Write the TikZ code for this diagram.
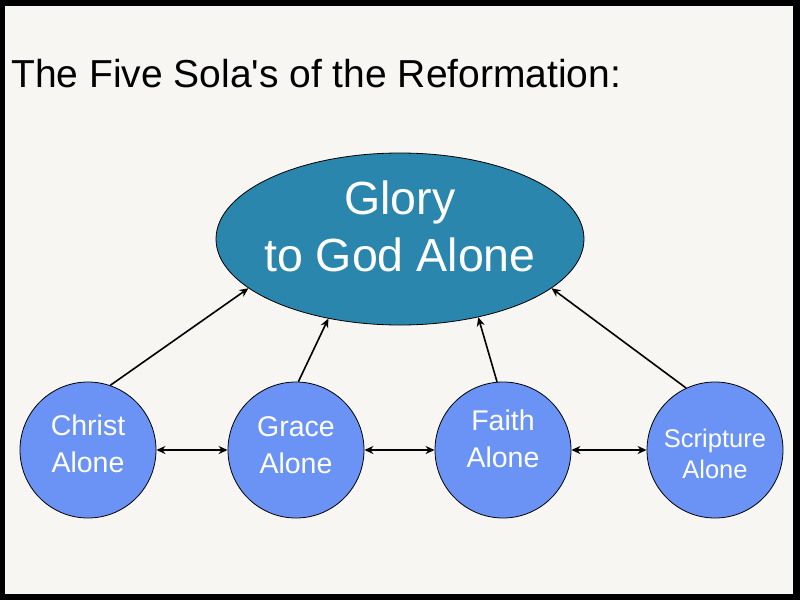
\documentclass[tikz,border=0pt]{standalone}
\usepackage{fontspec}
\setmainfont{Liberation Sans}
\usetikzlibrary{shapes.geometric,arrows.meta}
\definecolor{bgc}{HTML}{F7F6F3}
\definecolor{glory}{HTML}{2A86AD}
\definecolor{sola}{HTML}{6A93F5}
\tikzset{
  solacircle/.style={circle,draw=black,line width=0.8pt,fill=sola,minimum size=136pt,inner sep=0pt},
  solatext/.style={text=white,align=center,font=\fontsize{28.5}{37}\selectfont,inner sep=0pt},
  link/.style={line width=1.6pt,-{Stealth[length=9pt,width=8pt]}},
  dlink/.style={line width=1.6pt,{Stealth[length=9pt,width=8pt]}-{Stealth[length=9pt,width=8pt]}}
}
\begin{document}
\begin{tikzpicture}[x=1pt,y=-1pt]
\useasboundingbox (0,0) rectangle (800,600);
\fill[black] (0,0) rectangle (800,600);
\fill[bgc] (5,6) rectangle (793,594);
\node[anchor=base west,inner sep=0pt,font=\fontsize{39}{45}\selectfont] (title) at (11,87) {The Five Sola\textquotesingle s of the Reformation:};
\node[ellipse,draw=black,line width=0.8pt,fill=glory,minimum width=368pt,minimum height=172pt,inner sep=0pt] (g) at (400,239) {};
\node[text=white,align=center,inner sep=0pt,font=\fontsize{46.5}{57}\selectfont] (gt) at (400,226) {Glory\\to God Alone};
\node[solacircle] (c1) at (88,450) {};
\node[solacircle] (c2) at (296,450) {};
\node[solacircle] (c3) at (503,450) {};
\node[solacircle] (c4) at (715,450) {};
\node[solatext] (t1) at (88,444) {Christ\\Alone};
\node[solatext] (t2) at (296,445) {Grace\\Alone};
\node[solatext] (t3) at (503,439) {Faith\\Alone};
\node[solatext,font=\fontsize{25.5}{31}\selectfont] (t4) at (715,454) {Scripture\\Alone};
\draw[link] (c1.71) -- (g.198.4);
\draw[link] (c2.88) -- (g.228);
\draw[link] (c3.95) -- (g.315);
\draw[link] (c4.115) -- (g.342);
\draw[dlink] (c1.east) -- (c2.west);
\draw[dlink] (c2.east) -- (c3.west);
\draw[dlink] (c3.east) -- (c4.west);
\end{tikzpicture}
\end{document}
